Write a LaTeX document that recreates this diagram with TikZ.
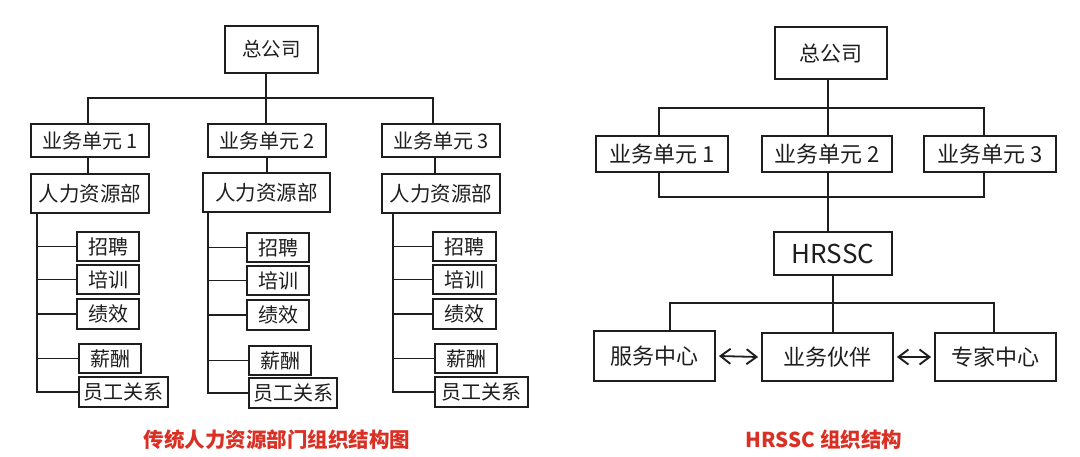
\documentclass[tikz,border=0pt]{standalone}
\usepackage{fontspec}
\setmainfont{Noto Sans CJK SC}
\usetikzlibrary{arrows.meta}
\definecolor{cap}{RGB}{218,48,36}
\definecolor{ink}{RGB}{30,30,30}
\tikzset{
  box/.style={draw=ink, line width=1.8pt, inner sep=0pt, text=ink},
  conn/.style={draw=ink, line width=1.8pt},
  dbl/.style={conn, {Straight Barb[length=10pt,width=15pt,line width=1.9pt]}-{Straight Barb[length=10pt,width=15pt,line width=1.9pt]}},
  captxt/.style={text=cap, font=\fontsize{20.5}{22}\selectfont\bfseries}
}
\newcommand\bx[7]{\node[box, minimum width={(#4-#2)*1pt}, minimum height={(#5-#3)*1pt}, font=\fontsize{#7}{#7}\selectfont] (#1) at ({(#2+#4)/2},{(#3+#5)/2}) {#6};}
\begin{document}
\begin{tikzpicture}[x=1pt,y=-1pt]
\useasboundingbox[fill=white] (0,0) rectangle (1080,457);
% ---------- left ----------
\bx{top}{225}{26}{318}{73}{总公司}{19.5}
\bx{bua}{31}{124}{149}{157}{业务单元 1}{20}
\bx{bub}{208}{124}{326}{157}{业务单元 2}{20}
\bx{buc}{382}{124}{500}{157}{业务单元 3}{20}
\bx{hra}{31}{174}{149}{213}{人力资源部}{20.5}
\bx{hrb}{203}{173}{330}{212}{人力资源部}{20.5}
\bx{hrc}{382}{174}{500}{213}{人力资源部}{20.5}
\coordinate (lj) at (266,98);
\draw[conn] (top.south -| lj) -- (lj);
\draw[conn] (bua.north -| 88,0) |- (lj) -| (buc.north -| 433,0);
\draw[conn] (bub.north -| lj) -- (lj);
\draw[conn] (bua.south -| 88,0) -- (hra.north -| 88,0);
\draw[conn] (bub.south -| 267,0) -- (hrb.north -| 267,0);
\draw[conn] (buc.south -| 435,0) -- (hrc.north -| 435,0);
% sub boxes column 1
\bx{zpa}{77}{232}{139}{261}{招聘}{20}
\bx{pxa}{77}{265}{139}{294}{培训}{20}
\bx{jxa}{77}{299}{139}{329}{绩效}{20}
\bx{xca}{79}{344}{141}{373}{薪酬}{20}
\bx{yga}{79}{377}{168}{407}{员工关系}{20}
% column 2
\bx{zpb}{247}{233}{309}{262}{招聘}{20}
\bx{pxb}{247}{266}{309}{295}{培训}{20}
\bx{jxb}{247}{300}{309}{330}{绩效}{20}
\bx{xcb}{249}{346}{311}{375}{薪酬}{20}
\bx{ygb}{249}{378}{337}{408}{员工关系}{20}
% column 3
\bx{zpc}{433}{232}{496}{261}{招聘}{20}
\bx{pxc}{433}{265}{496}{294}{培训}{20}
\bx{jxc}{433}{299}{496}{329}{绩效}{20}
\bx{xcc}{435}{344}{497}{373}{薪酬}{20}
\bx{ygc}{435}{377}{528}{407}{员工关系}{20}
\coordinate (ta) at (37,0);
\coordinate (tb) at (208,0);
\coordinate (tc) at (393,0);
\draw[conn] (hra.south -| ta) |- (yga.west);
\draw[conn] (hrb.south -| tb) |- (ygb.west);
\draw[conn] (hrc.south -| tc) |- (ygc.west);
\foreach \n in {zp,px,jx,xc}{
  \draw[conn] (\n a.west) -- (\n a.west -| ta);
  \draw[conn] (\n b.west) -- (\n b.west -| tb);
  \draw[conn] (\n c.west) -- (\n c.west -| tc);
}
\node[captxt] (capl) at (277,440) {传统人力资源部门组织结构图};
% ---------- right ----------
\bx{rtop}{775}{27}{887}{79}{总公司}{21}
\bx{rba}{596}{136}{728}{172}{业务单元 1}{22}
\bx{rbb}{762}{136}{892}{172}{业务单元 2}{22}
\bx{rbc}{924}{136}{1056}{172}{业务单元 3}{22}
\bx{hrssc}{774}{232}{892}{275}{HRSSC}{26}
\bx{fw}{594}{331}{715}{381}{服务中心}{22}
\bx{yw}{762}{333}{893}{381}{业务伙伴}{22}
\bx{zj}{935}{333}{1056}{381}{专家中心}{22}
\coordinate (rj1) at (828,108);
\coordinate (rj2) at (828,197);
\coordinate (rj3) at (833,303);
\draw[conn] (rtop.south -| rj1) -- (rj1);
\draw[conn] (rba.north -| 659,0) |- (rj1) -| (rbc.north -| 984,0);
\draw[conn] (rbb.north -| rj1) -- (rj1);
\draw[conn] (rba.south -| 659,0) |- (rj2) -| (rbc.south -| 984,0);
\draw[conn] (rbb.south -| rj2) -- (hrssc.north -| rj2);
\draw[conn] (hrssc.south -| rj3) -- (rj3);
\draw[conn] (fw.north -| 670,0) |- (rj3) -| (zj.north -| 994,0);
\draw[conn] (yw.north -| rj3) -- (rj3);
\draw[dbl] ([xshift=3pt]fw.east) -- ([xshift=-3pt]yw.west);
\draw[dbl] ([xshift=3pt]yw.east) -- ([xshift=-3pt]zj.west);
\node[captxt] (capr) at (824,440) {HRSSC 组织结构};
\end{tikzpicture}
\end{document}
